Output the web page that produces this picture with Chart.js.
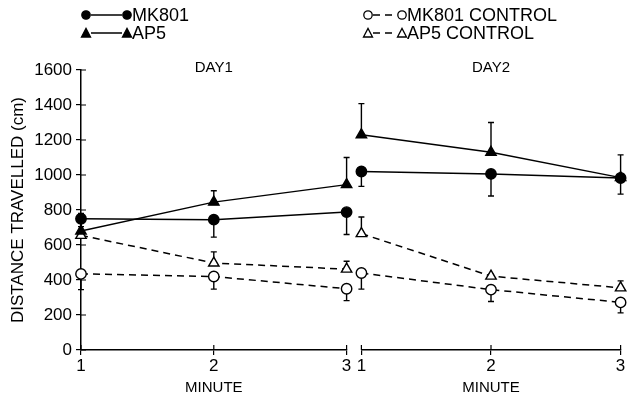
<!DOCTYPE html>
<html>
<head>
<meta charset="utf-8">
<script src="https://cdn.jsdelivr.net/npm/chart.js@4/dist/chart.umd.min.js"></script>
<style>
body{margin:0;width:628px;height:403px;background:#fff;position:relative;overflow:hidden;font-family:"Liberation Sans",Arial,sans-serif;color:#000}
canvas{position:absolute;top:0}
#day1{left:0}
#day2{left:354px}
.leg{position:absolute;height:18px;white-space:nowrap}
.leg svg{position:absolute;left:0;top:0}
.leg span{position:absolute;top:0;font-size:18px;line-height:18px}
</style>
</head>
<body>
<canvas id="day1" width="354" height="403"></canvas>
<canvas id="day2" width="274" height="403"></canvas>
<div id="legend"></div>
<script>
// minutes within each day
const minutes = ["1", "2", "3"];
const yTicks = [0, 200, 400, 600, 800, 1000, 1200, 1400, 1600];

// mean distance travelled (cm)
const mk801Day1 = [750, 745, 788];
const mk801Day2 = [1020, 1006, 983];
const ap5Day1 = [680, 845, 945];
const ap5Day2 = [1230, 1130, 985];
const mk801CtrlDay1 = [435, 420, 350];
const mk801CtrlDay2 = [440, 345, 272];
const ap5CtrlDay1 = [655, 497, 462];
const ap5CtrlDay2 = [665, 422, 355];

// SEM (drawn one side only)
const mk801ErrDay1 = [90, 100, 128];
const mk801ErrDay2 = [85, 126, 92];
const ap5ErrDay1 = [100, 65, 155];
const ap5ErrDay2 = [178, 170, 130];
const mk801CtrlErrDay1 = [90, 72, 68];
const mk801CtrlErrDay2 = [92, 68, 60];
const ap5CtrlErrDay1 = [50, 64, 45];
const ap5CtrlErrDay2 = [95, 10, 40];

const FONT = "Liberation Sans";

function makeSets(mk, mkE, ap, apE, mkc, mkcE, apc, apcE) {
    const base = {borderColor: "#000", borderWidth: 1.5, tension: 0, clip: false,
        pointBorderColor: "#000", pointBorderWidth: 1.4, pointHoverRadius: 6};
    return [
        Object.assign({}, base, {label: "MK801", data: mk, err: mkE, dir: -1,
            pointStyle: "circle", pointRadius: 5.2, pointBackgroundColor: "#000"}),
        Object.assign({}, base, {label: "AP5", data: ap, err: apE, dir: 1,
            pointStyle: "triangle", pointRadius: 6, pointBackgroundColor: "#000"}),
        Object.assign({}, base, {label: "MK801 CONTROL", data: mkc, err: mkcE, dir: -1,
            borderDash: [7, 5], pointStyle: "circle", pointRadius: 5.2, pointBackgroundColor: "#fff"}),
        Object.assign({}, base, {label: "AP5 CONTROL", data: apc, err: apcE, dir: 1,
            borderDash: [7, 5], pointStyle: "triangle", pointRadius: 6, pointBackgroundColor: "#fff"})
    ];
}

const errorBars = {
    id: "errorBars",
    beforeDatasetsDraw(chart) {
        const ctx = chart.ctx, y = chart.scales.y;
        ctx.save();
        ctx.strokeStyle = "#000";
        ctx.lineWidth = 1.4;
        chart.data.datasets.forEach((ds, i) => {
            chart.getDatasetMeta(i).data.forEach((pt, j) => {
                const end = y.getPixelForValue(ds.data[j] + ds.dir * ds.err[j]);
                ctx.beginPath();
                ctx.moveTo(pt.x, pt.y);
                ctx.lineTo(pt.x, end);
                ctx.moveTo(pt.x - 3, end);
                ctx.lineTo(pt.x + 3, end);
                ctx.stroke();
            });
        });
        ctx.restore();
    }
};

// day title and inner tick stubs
const panelDeco = {
    id: "panelDeco",
    afterDraw(chart, args, opts) {
        const {ctx, chartArea, scales} = chart;
        ctx.save();
        ctx.fillStyle = "#000";
        ctx.font = "15px '" + FONT + "'";
        ctx.textAlign = "center";
        ctx.textBaseline = "middle";
        ctx.fillText(opts.text, (chartArea.left + chartArea.right) / 2, chartArea.top - 2);
        ctx.strokeStyle = "#000";
        ctx.lineWidth = 1.2;
        ctx.beginPath();
        if (scales.y.options.display) {
            scales.y.ticks.forEach(t => {
                const py = scales.y.getPixelForValue(t.value);
                ctx.moveTo(chartArea.left, py);
                ctx.lineTo(chartArea.left + 5, py);
            });
        }
        scales.x.ticks.forEach((t, i) => {
            const px = scales.x.getPixelForTick(i);
            ctx.moveTo(px, chartArea.bottom);
            ctx.lineTo(px, chartArea.bottom - 5);
        });
        ctx.stroke();
        ctx.restore();
    }
};

function makeChart(id, title, sets, showY, pad) {
    return new Chart(document.getElementById(id).getContext("2d"), {
        type: "line",
        data: {labels: minutes, datasets: sets},
        plugins: [errorBars, panelDeco],
        options: {
            responsive: false,
            animation: false,
            layout: {padding: pad},
            plugins: {legend: {display: false}, tooltip: {enabled: false}, panelDeco: {text: title}},
            scales: {
                x: {
                    grid: {drawOnChartArea: false, tickLength: 5, color: "#000", lineWidth: 1.2},
                    border: {display: true, color: "#000", width: 1.5},
                    ticks: {color: "#000", padding: 1, maxRotation: 0, font: {family: FONT, size: 17}},
                    title: {display: true, text: "MINUTE", color: "#000", padding: {top: 2, bottom: 6},
                        font: {family: FONT, size: 15}},
                    afterFit: s => { s.height = 53; s.paddingLeft = 0; s.paddingRight = 0; }
                },
                y: {
                    display: showY,
                    min: 0,
                    max: 1600,
                    afterBuildTicks: s => { s.ticks = yTicks.map(v => ({value: v})); },
                    grid: {drawOnChartArea: false, tickLength: 5, color: "#000", lineWidth: 1.2},
                    border: {display: true, color: "#000", width: 1.5},
                    ticks: {color: "#000", padding: 4, font: {family: FONT, size: 17},
                        callback: v => String(v)},
                    title: {display: true, text: "DISTANCE TRAVELLED (cm)", color: "#000",
                        padding: {top: 8, bottom: 0}, font: {family: FONT, size: 17}},
                    afterFit: s => {
                        if (showY) s.width = 81;
                        s.paddingTop = 0;
                        s.paddingBottom = 0;
                    }
                }
            }
        }
    });
}

makeChart("day1", "DAY1",
    makeSets(mk801Day1, mk801ErrDay1, ap5Day1, ap5ErrDay1,
        mk801CtrlDay1, mk801CtrlErrDay1, ap5CtrlDay1, ap5CtrlErrDay1),
    true, {top: 70, left: 0, right: 7, bottom: 0});

makeChart("day2", "DAY2",
    makeSets(mk801Day2, mk801ErrDay2, ap5Day2, ap5ErrDay2,
        mk801CtrlDay2, mk801CtrlErrDay2, ap5CtrlDay2, ap5CtrlErrDay2),
    false, {top: 70, left: 7, right: 4, bottom: 0});

// legend in the figure's own style
const legendItems = [
    {text: "MK801", shape: "circle", fill: "#000", dash: "", x: 78, y: 6, gap: 41},
    {text: "AP5", shape: "triangle", fill: "#000", dash: "", x: 78, y: 24, gap: 41},
    {text: "MK801 CONTROL", shape: "circle", fill: "#fff", dash: "7,5", x: 360, y: 6, gap: 34},
    {text: "AP5 CONTROL", shape: "triangle", fill: "#fff", dash: "7,5", x: 360, y: 24, gap: 34}
];

function marker(shape, cx, fill) {
    if (shape === "circle") {
        return '<circle cx="' + cx + '" cy="9" r="4.2" fill="' + fill + '" stroke="#000" stroke-width="1.3"/>';
    }
    return '<polygon points="' + (cx - 4.5) + ',13 ' + (cx + 4.5) + ',13 ' + cx + ',4.5" fill="' + fill +
        '" stroke="#000" stroke-width="1.3"/>';
}

const legendBox = document.getElementById("legend");
legendItems.forEach(it => {
    const a = 8, b = 8 + it.gap;
    const w = b + 6;
    const div = document.createElement("div");
    div.className = "leg";
    div.style.left = it.x + "px";
    div.style.top = it.y + "px";
    div.innerHTML = '<svg width="' + w + '" height="18">' +
        '<line x1="' + (a + 5) + '" y1="9" x2="' + (b - 5) + '" y2="9" stroke="#000" stroke-width="1.5"' +
        (it.dash ? ' stroke-dasharray="' + it.dash + '"' : '') + '/>' +
        marker(it.shape, a, it.fill) + marker(it.shape, b, it.fill) + '</svg>' +
        '<span style="left:' + (w - 1) + 'px">' + it.text + '</span>';
    legendBox.appendChild(div);
});
</script>
</body>
</html>
